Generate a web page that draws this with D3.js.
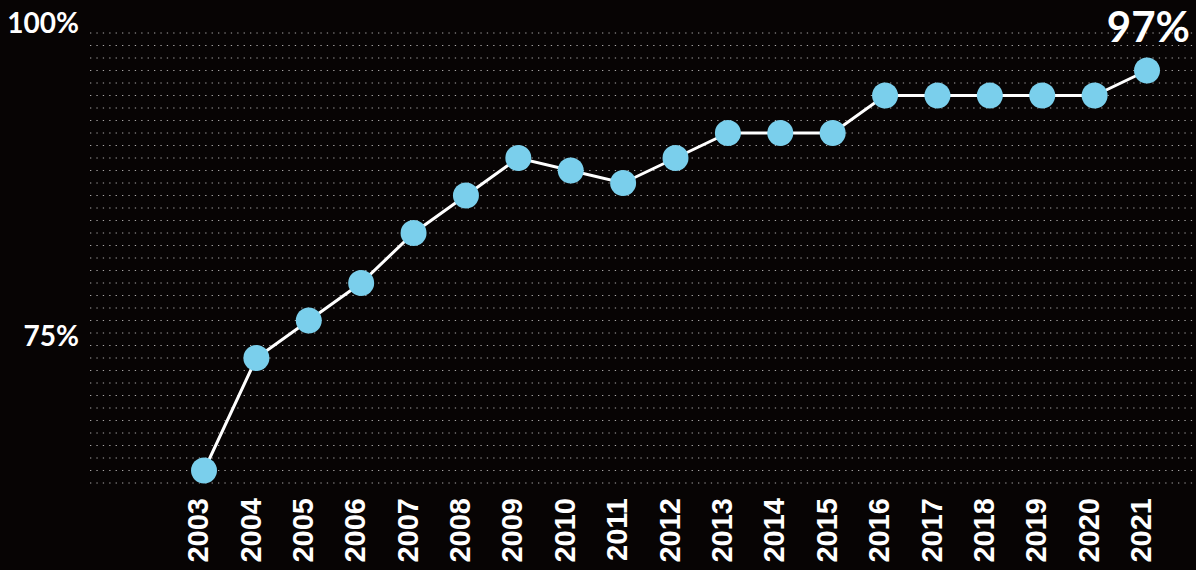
<!DOCTYPE html>
<html>
<head>
<meta charset="utf-8">
<script src="https://cdn.jsdelivr.net/npm/d3@7"></script>
<style>
  html, body { margin: 0; padding: 0; background: #070404; }
  svg { display: block; }
</style>
</head>
<body>
<svg id="chart"></svg>
<script>
const width = 1196, height = 570; // Canvas size

// Data
const years = ["2003", "2004", "2005", "2006", "2007", "2008", "2009", "2010", "2011", "2012",
               "2013", "2014", "2015", "2016", "2017", "2018", "2019", "2020", "2021"];
const shares = [65, 74, 77, 80, 84, 87, 90, 89, 88, 90, 92, 92, 92, 95, 95, 95, 95, 95, 97];
const yTicks = [100, 75];
const gridLevels = d3.range(64, 101); // one dotted line per percent
const lastLabel = "97%";

const svg = d3.select("#chart")
    .attr("width", width)
    .attr("height", height);

svg.append("rect")
    .attr("width", width)
    .attr("height", height)
    .attr("fill", "#070404");

const x = d3.scalePoint().domain(years).range([204, 1147]);
const y = d3.scaleLinear().domain([64, 100]).range([483, 33]);

// dotted grid
svg.append("g").attr("class", "grid")
    .selectAll("line")
    .data(gridLevels)
    .join("line")
    .attr("x1", 90)
    .attr("x2", width)
    .attr("y1", d => y(d))
    .attr("y2", d => y(d))
    .attr("stroke", "#a9a6a6")
    .attr("stroke-width", 1.2)
    .attr("stroke-dasharray", "1.3 5.1");

// y labels, sitting on their grid line
svg.append("g").attr("class", "y-labels")
    .selectAll("text")
    .data(yTicks)
    .join("text")
    .attr("x", 79)
    .attr("y", d => y(d))
    .attr("text-anchor", "end")
    .attr("font-family", "Lato")
    .attr("font-weight", 700)
    .attr("font-size", "28px")
    .attr("fill", "#fff")
    .text(d => d + "%");

// x labels, rotated
svg.append("g").attr("class", "x-labels")
    .selectAll("text")
    .data(years)
    .join("text")
    .attr("transform", d => `translate(${x(d) - 6},498) rotate(-90)`)
    .attr("text-anchor", "end")
    .attr("dy", "0.35em")
    .attr("font-family", "Liberation Sans")
    .attr("font-weight", 700)
    .attr("font-size", "29px")
    .attr("fill", "#fff")
    .text(d => d);

const line = d3.line()
    .x((d, i) => x(years[i]))
    .y(d => y(d));

svg.append("path")
    .datum(shares)
    .attr("d", line)
    .attr("fill", "none")
    .attr("stroke", "#fff")
    .attr("stroke-width", 3);

svg.append("g").attr("class", "dots")
    .selectAll("circle")
    .data(shares)
    .join("circle")
    .attr("cx", (d, i) => x(years[i]))
    .attr("cy", d => y(d))
    .attr("r", 13)
    .attr("fill", "#7acfec");

// callout for last value
svg.append("text")
    .attr("x", 1190)
    .attr("y", 42)
    .attr("text-anchor", "end")
    .attr("font-family", "Lato")
    .attr("font-weight", 700)
    .attr("font-size", "42px")
    .attr("fill", "#fff")
    .text(lastLabel);
</script>
</body>
</html>
